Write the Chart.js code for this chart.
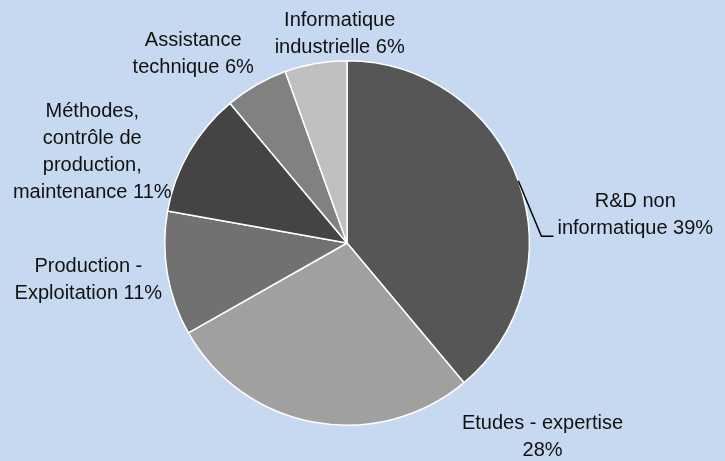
<!DOCTYPE html>
<html>
<head>
<meta charset="utf-8">
<script src="https://cdn.jsdelivr.net/npm/chart.js@4"></script>
<style>
    html, body { margin: 0; padding: 0; background: #c6d9f1; }
    #wrap { width: 725px; height: 461px; position: relative; }
</style>
</head>
<body>
<div id="wrap"><canvas id="pie-chart"></canvas></div>
<script>
const categories = ['R&D non\ninformatique', 'Etudes - expertise', 'Production -\nExploitation', 'Méthodes,\ncontrôle de\nproduction,\nmaintenance', 'Assistance\ntechnique', 'Informatique\nindustrielle'];
const shares = [38.9, 27.9, 11.0, 11.1, 5.6, 5.5];
const sliceColors = ['#565656', '#a0a0a0', '#717171', '#444444', '#818181', '#c0c0c0'];

// label layout: separator before the percent, offset of the label centre from the slice edge
const pctSep = [' ', '\n', ' ', ' ', ' ', ' '];
const labelOffsets = [[117, 34], [228, 15], [-79, 6], [-97, 0], [-63, -31], [24, -29]];
const leaderLine = [true, false, false, false, false, false];

const outsideLabels = {
    id: 'outsideLabels',
    afterDatasetsDraw(chart) {
        const ctx = chart.ctx;
        const meta = chart.getDatasetMeta(0);
        const lineH = 27;
        ctx.save();
        ctx.font = '20px "Liberation Sans", Arial, sans-serif';
        ctx.fillStyle = '#111111';
        ctx.textAlign = 'center';
        ctx.textBaseline = 'middle';
        meta.data.forEach((arc, i) => {
            const { x, y, startAngle, endAngle, outerRadius } = arc.getProps(['x', 'y', 'startAngle', 'endAngle', 'outerRadius'], true);
            const mid = (startAngle + endAngle) / 2;
            const ax = x + Math.cos(mid) * outerRadius;
            const ay = y + Math.sin(mid) * outerRadius;
            const text = categories[i] + pctSep[i] + Math.round(shares[i]) + '%';
            const lines = text.split('\n');
            const cx = ax + labelOffsets[i][0];
            const cy = ay + labelOffsets[i][1];
            const top = cy - (lines.length - 1) * lineH / 2;
            lines.forEach((ln, k) => ctx.fillText(ln, cx, top + k * lineH));
            if (leaderLine[i]) {
                const lastY = top + (lines.length - 1) * lineH;
                const left = cx - ctx.measureText(lines[lines.length - 1]).width / 2;
                ctx.strokeStyle = '#000';
                ctx.lineWidth = 1.5;
                ctx.beginPath();
                ctx.moveTo(ax, ay);
                ctx.lineTo(left - 16, lastY + 8);
                ctx.lineTo(left - 4, lastY + 8);
                ctx.stroke();
            }
        });
        ctx.restore();
    }
};

new Chart(document.getElementById('pie-chart'), {
    type: 'pie',
    data: {
        labels: categories,
        datasets: [{
            data: shares,
            backgroundColor: sliceColors,
            borderColor: '#ffffff',
            borderWidth: 1.5
        }]
    },
    options: {
        responsive: true,
        maintainAspectRatio: false,
        animation: false,
        layout: { padding: { top: 60, bottom: 35, left: 164, right: 195 } },
        plugins: { legend: { display: false }, tooltip: { enabled: false } }
    },
    plugins: [outsideLabels]
});
</script>
</body>
</html>
